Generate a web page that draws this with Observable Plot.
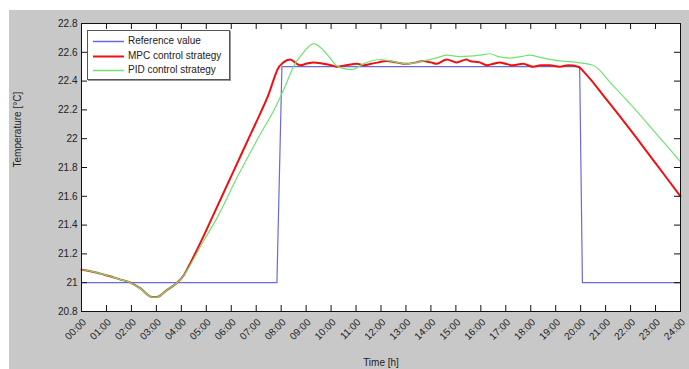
<!DOCTYPE html>
<html>
<head>
<meta charset="utf-8">
<script src="https://cdn.jsdelivr.net/npm/d3@7"></script>
<script src="https://cdn.jsdelivr.net/npm/@observablehq/plot@0.6"></script>
<style>
  html, body { margin: 0; padding: 0; background: #ffffff; }
  #wrap { position: relative; width: 689px; height: 369px; overflow: hidden; font-family: "Liberation Sans", Arial, sans-serif; }
  #chart { position: absolute; left: 9px; top: 10px; }
  #legend { position: absolute; left: 87px; top: 30px; width: 141px; height: 48px; background: #fff;
            border: 1px solid #555; box-shadow: 1px 1px 0 #999; font-size: 10px; color: #222; }
  .row { position: absolute; left: 0; height: 14px; line-height: 14px; white-space: nowrap; }
  .row svg { position: absolute; left: 5px; top: 6px; }
  .row span { position: absolute; left: 40px; top: 0; }
</style>
</head>
<body>
<div id="wrap">
  <div id="chart"></div>
  <div id="legend"></div>
</div>
<script>
// ---- data ----
const seriesNames = ["Reference value", "MPC control strategy", "PID control strategy"];
const seriesColors = ["#6a6ad8", "#ee1111", "#72e272"];

const refTime  = [0, 7.83, 8.03, 19.96, 20.07, 24];
const refValue = [21, 21, 22.5, 22.5, 21, 21];

const mpcTime  = [0, 0.36, 1.03, 1.5, 1.96, 2.36, 2.83, 3.01, 3.43, 3.83, 4.09, 4.4, 4.8, 5.2, 5.6, 6.0, 6.4, 6.8, 7.2, 7.5, 7.7, 7.85, 8.09, 8.36, 8.63, 8.76, 9.0, 9.29, 9.69, 10.0, 10.23, 10.6, 11.03, 11.3, 11.6, 11.9, 12.23, 12.6, 13.03, 13.4, 13.69, 14.0, 14.23, 14.63, 15.03, 15.43, 15.56, 15.96, 16.23, 16.5, 16.76, 17.0, 17.29, 17.69, 18.09, 18.4, 18.76, 19.16, 19.5, 19.9, 20.2, 21.0, 22.0, 23.0, 24];
const mpcValue = [21.09, 21.08, 21.05, 21.025, 21.0, 20.96, 20.9, 20.9, 20.95, 21.0, 21.05, 21.15, 21.29, 21.44, 21.59, 21.74, 21.89, 22.04, 22.19, 22.31, 22.41, 22.48, 22.53, 22.55, 22.52, 22.51, 22.52, 22.53, 22.52, 22.51, 22.5, 22.51, 22.52, 22.51, 22.52, 22.53, 22.54, 22.53, 22.52, 22.53, 22.54, 22.53, 22.52, 22.55, 22.53, 22.55, 22.54, 22.53, 22.51, 22.52, 22.53, 22.52, 22.51, 22.52, 22.5, 22.51, 22.51, 22.5, 22.51, 22.5, 22.45, 22.28, 22.06, 21.83, 21.6];

const pidTime  = [0, 0.36, 1.03, 1.5, 1.96, 2.36, 2.83, 3.01, 3.43, 3.83, 4.09, 4.89, 5.43, 6.23, 7.03, 7.83, 8.2, 8.49, 8.9, 9.29, 9.6, 9.96, 10.2, 10.43, 10.83, 11.29, 11.96, 12.36, 13.03, 13.69, 14.2, 14.63, 15.16, 15.96, 16.36, 16.7, 17.16, 17.6, 17.96, 18.5, 19.16, 19.83, 20.49, 21.29, 22.2, 23.1, 24];
const pidValue = [21.09, 21.08, 21.05, 21.025, 21.0, 20.96, 20.9, 20.9, 20.95, 21.0, 21.05, 21.29, 21.45, 21.73, 21.99, 22.24, 22.38, 22.5, 22.6, 22.66, 22.63, 22.56, 22.51, 22.49, 22.48, 22.52, 22.55, 22.54, 22.52, 22.54, 22.56, 22.58, 22.57, 22.58, 22.59, 22.57, 22.56, 22.57, 22.58, 22.56, 22.54, 22.53, 22.51, 22.37, 22.2, 22.02, 21.84];

const xTicks = d3.range(0, 25);
const xTickLabels = ["00:00","01:00","02:00","03:00","04:00","05:00","06:00","07:00","08:00","09:00","10:00","11:00","12:00","13:00","14:00","15:00","16:00","17:00","18:00","19:00","20:00","21:00","22:00","23:00","24:00"];
const yTicks = [20.8, 21, 21.2, 21.4, 21.6, 21.8, 22, 22.2, 22.4, 22.6, 22.8];
const yTickLabels = ["20.8","21","21.2","21.4","21.6","21.8","22","22.2","22.4","22.6","22.8"];
const xLabel = "Time [h]";
const yLabel = "Temperature [°C]";

// ---- build tables ----
const toRows = (t, v) => t.map((d, i) => ({t: d, v: v[i]}));
const ref = toRows(refTime, refValue);
const mpc = toRows(mpcTime, mpcValue);
const pid = toRows(pidTime, pidValue);

const W = 680, H = 359, mL = 72, mT = 13, mR = 9, mB = 58;
const plotW = W - mL - mR, plotH = H - mT - mB;
const tk = 6;

const chart = Plot.plot({
  width: W, height: H,
  marginLeft: mL, marginTop: mT, marginRight: mR, marginBottom: mB,
  style: {background: "#c8c8c8", fontFamily: "Liberation Sans, Arial, sans-serif", fontSize: "10px", color: "#222"},
  x: {domain: [0, 24]},
  y: {domain: [20.8, 22.8]},
  marks: [
    Plot.frame({fill: "white", stroke: "none"}),
    Plot.line(ref, {x: "t", y: "v", stroke: seriesColors[0], strokeWidth: 1.2}),
    Plot.line(mpc, {x: "t", y: "v", stroke: seriesColors[1], strokeWidth: 2, curve: "monotone-x"}),
    Plot.line(pid, {x: "t", y: "v", stroke: seriesColors[2], strokeWidth: 1.2, curve: "monotone-x"}),
    // inward ticks on all four sides
    Plot.ruleX(xTicks, {x: d => d, insetTop: plotH - tk, stroke: "#111"}),
    Plot.ruleX(xTicks, {x: d => d, insetBottom: plotH - tk, stroke: "#111"}),
    Plot.ruleY(yTicks, {y: d => d, insetRight: plotW - tk, stroke: "#111"}),
    Plot.ruleY(yTicks, {y: d => d, insetLeft: plotW - tk, stroke: "#111"}),
    Plot.axisX({ticks: xTicks, tickFormat: (d, i) => xTickLabels[i], tickSize: 0, tickPadding: 9, tickRotate: -45, dx: 3, label: null, fill: "#222"}),
    Plot.axisY({ticks: yTicks, tickFormat: (d, i) => yTickLabels[i], tickSize: 0, tickPadding: 4, label: null, fill: "#222"}),
    Plot.text([xLabel], {frameAnchor: "bottom", dy: 51.5, lineAnchor: "middle", fill: "#222"}),
    Plot.text([yLabel], {frameAnchor: "left", dx: -64, rotate: -90, lineAnchor: "middle", fill: "#222"}),
    Plot.frame({stroke: "#111", strokeWidth: 1})
  ]
});
document.getElementById("chart").appendChild(chart);

// legend
const legend = document.getElementById("legend");
seriesNames.forEach((name, i) => {
  const row = document.createElement("div");
  row.className = "row";
  row.style.top = (3 + i * 14.7) + "px";
  row.innerHTML = `<svg width="31" height="3"><line x1="0" y1="1.5" x2="31" y2="1.5" stroke="${seriesColors[i]}" stroke-width="${i === 1 ? 2 : 1.5}"/></svg><span>${name}</span>`;
  legend.appendChild(row);
});
</script>
</body>
</html>
